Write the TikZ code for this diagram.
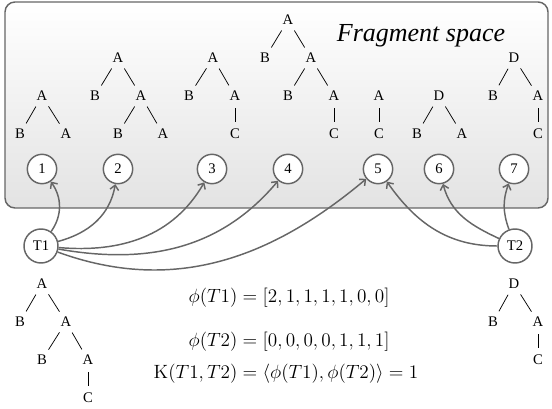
\documentclass[tikz,border=0pt]{standalone}
\usepackage{amsmath,amssymb}
\usepackage[no-math]{fontspec}
\setmainfont{Liberation Serif}
\usepackage{tikz}
\usetikzlibrary{arrows.meta,calc}

\definecolor{linegray}{gray}{0.40}

\tikzset{
  lbl/.style={circle,inner sep=0pt,minimum size=18pt,font=\fontsize{11}{12}\selectfont},
  twig/.style={line width=0.55pt,black},
  frag/.style={circle,draw=linegray,line width=1.1pt,fill=white,inner sep=0pt,minimum size=22pt,font=\fontsize{11}{12}\selectfont},
  whole/.style={frag,minimum size=25.5pt},
  link/.style={draw=linegray,line width=1.1pt,-{Straight Barb[length=3.5pt,width=6.5pt]}},
}

\begin{document}
\begin{tikzpicture}[x=0.75pt,y=0.75pt]
\useasboundingbox (0,0) rectangle (552,-409);

% fragment space
\draw[top color=white,bottom color=black!11,draw=linegray,line width=1.1pt,rounded corners=7.5pt]
  (5,-2) rectangle (548,-208);
\node[font=\fontsize{19.5}{23}\selectfont\itshape] (title) at (421,-36) {Fragment space};

% fragments
\node[lbl] (f1a) at (42,-96) {A};
\node[lbl] (f1b) at (20,-134) {B};
\node[lbl] (f1c) at (66,-134) {A};

\node[lbl] (f2a) at (118,-58) {A};
\node[lbl] (f2b) at (95,-96) {B};
\node[lbl] (f2c) at (141,-96) {A};
\node[lbl] (f2d) at (118,-134) {B};
\node[lbl] (f2e) at (163,-134) {A};

\node[lbl] (f3a) at (213,-58) {A};
\node[lbl] (f3b) at (189,-96) {B};
\node[lbl] (f3c) at (235,-96) {A};
\node[lbl] (f3d) at (235,-134) {C};

\node[lbl] (f4a) at (288,-20) {A};
\node[lbl] (f4b) at (265,-58) {B};
\node[lbl] (f4c) at (311,-58) {A};
\node[lbl] (f4d) at (288,-96) {B};
\node[lbl] (f4e) at (334,-96) {A};
\node[lbl] (f4f) at (334,-134) {C};

\node[lbl] (f5a) at (379,-96) {A};
\node[lbl] (f5b) at (379,-134) {C};

\node[lbl] (f6a) at (439,-96) {D};
\node[lbl] (f6b) at (417,-134) {B};
\node[lbl] (f6c) at (462,-134) {A};

\node[lbl] (f7a) at (514,-58) {D};
\node[lbl] (f7b) at (493,-96) {B};
\node[lbl] (f7c) at (538,-96) {A};
\node[lbl] (f7d) at (538,-134) {C};

\foreach \u/\v in {f1a/f1b,f1a/f1c,f2a/f2b,f2a/f2c,f2c/f2d,f2c/f2e,
                   f3a/f3b,f3a/f3c,f3c/f3d,f4a/f4b,f4a/f4c,f4c/f4d,f4c/f4e,f4e/f4f,
                   f5a/f5b,f6a/f6b,f6a/f6c,f7a/f7b,f7a/f7c,f7c/f7d}
  \draw[twig] (\u) -- (\v);

% fragment indices
\node[frag] (n1) at (42,-169) {1};
\node[frag] (n2) at (118,-169) {2};
\node[frag] (n3) at (212,-169) {3};
\node[frag] (n4) at (288,-169) {4};
\node[frag] (n5) at (378,-169) {5};
\node[frag] (n6) at (439,-169) {6};
\node[frag] (n7) at (514,-169) {7};

% the two trees
\node[whole] (T1) at (41,-246) {T1};
\node[whole] (T2) at (515,-246) {T2};

\node[lbl] (s1a) at (42,-284) {A};
\node[lbl] (s1b) at (20,-322) {B};
\node[lbl] (s1c) at (66,-322) {A};
\node[lbl] (s1d) at (42,-360) {B};
\node[lbl] (s1e) at (88,-360) {A};
\node[lbl] (s1f) at (88,-398) {C};

\node[lbl] (s2a) at (514,-284) {D};
\node[lbl] (s2b) at (493,-322) {B};
\node[lbl] (s2c) at (538,-322) {A};
\node[lbl] (s2d) at (538,-360) {C};

\foreach \u/\v in {s1a/s1b,s1a/s1c,s1c/s1d,s1c/s1e,s1e/s1f,s2a/s2b,s2a/s2c,s2c/s2d}
  \draw[twig] (\u) -- (\v);

% feature map
\draw[link] (T1) to[out=55,in=-55] (n1);
\draw[link] (T1) to[out=15,in=-100] (n2);
\draw[link] (T1) to[out=-5,in=-120] (n3);
\draw[link] (T1) to[out=-10,in=-130] (n4);
\draw[link] (T1) to[out=-20,in=-140] (n5);
\draw[link] (T2) to[out=180,in=-55] (n5);
\draw[link] (T2) to[out=155,in=-75] (n6);
\draw[link] (T2) to[out=110,in=-110] (n7);

\node[font=\fontsize{15}{17}\selectfont] (eqs) at (286,-336) {$\begin{aligned}
  \phi(T1) &= [2,1,1,1,1,0,0]\\[13pt]
  \phi(T2) &= [0,0,0,0,1,1,1]\\[4pt]
  \mathrm{K}(T1,T2) &= \langle\phi(T1),\phi(T2)\rangle = 1
\end{aligned}$};
\end{tikzpicture}
\end{document}
